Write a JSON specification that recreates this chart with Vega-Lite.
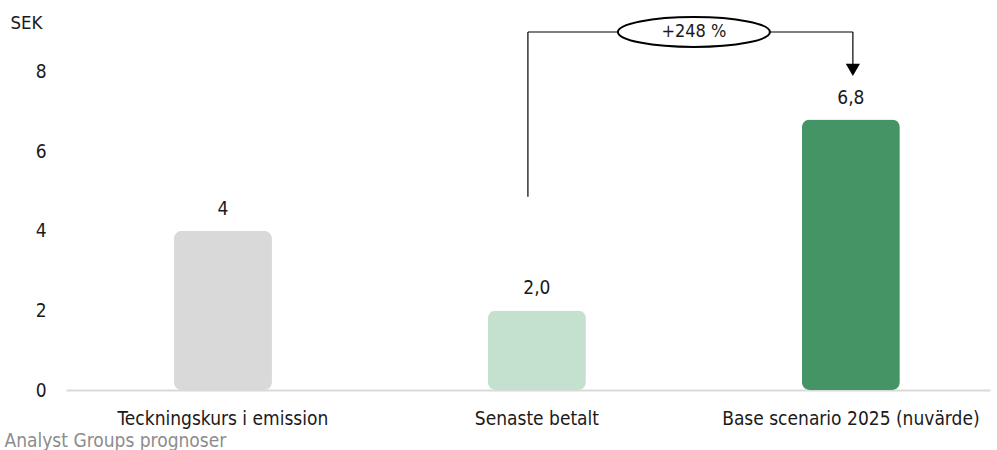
{
  "$schema": "https://vega.github.io/schema/vega-lite/v6.json",
  "autosize": "none",
  "width": 924,
  "height": 358,
  "padding": {"left": 66, "top": 32, "right": 7, "bottom": 60},
  "background": "white",
  "config": {
    "view": {"stroke": null},
    "font": "DejaVu Sans Condensed",
    "text": {"font": "DejaVu Sans Condensed"},
    "axisY": {"titleFontSize": 18.5, "titleFontWeight": "normal", "titleColor": "#1a1a1a"}
  },
  "datasets": {
    "bars": [
      {"kategori": "Teckningskurs i emission", "varde": 4, "etikett": "4"},
      {"kategori": "Senaste betalt", "varde": 2.0, "etikett": "2,0"},
      {"kategori": "Base scenario 2025 (nuvärde)", "varde": 6.8, "etikett": "6,8"}
    ],
    "vlinje": [
      {"kategori": "Senaste betalt", "y1": 4.86, "y2": 9}
    ],
    "hlinje": [
      {"fran": "Senaste betalt", "till": "Base scenario 2025 (nuvärde)", "y": 9}
    ],
    "pil": [
      {"kategori": "Base scenario 2025 (nuvärde)", "y1": 9, "y2": 8.1, "pil": 8.05}
    ],
    "ellips": [
      {"fran": "Senaste betalt", "till": "Base scenario 2025 (nuvärde)", "y": 9, "text": "+248 %"}
    ]
  },
  "layer": [
    {
      "data": {"name": "bars"},
      "mark": {"type": "bar", "cornerRadius": 8, "width": 98},
      "encoding": {
        "x": {
          "field": "kategori", "type": "nominal", "sort": null,
          "scale": {"paddingInner": 0.688, "paddingOuter": 0.3155, "align": 0.545},
          "axis": {
            "title": "Analyst Groups prognoser",
            "titleAnchor": "start", "titleAlign": "left", "titleX": -62, "titleY": 50,
            "titleFontSize": 19, "titleFontWeight": "normal", "titleColor": "#8c8c8c", "titleBaseline": "middle",
            "labelAngle": 0, "labelFontSize": 19, "labelColor": "#1a1a1a", "labelPadding": 28, "labelLimit": 0, "labelBaseline": "middle",
            "ticks": false, "domainColor": "#d9d9d9", "domainWidth": 2
          }
        },
        "y": {
          "field": "varde", "type": "quantitative",
          "scale": {"domain": [0, 9], "nice": false},
          "axis": {
            "values": [0, 2, 4, 6, 8], "grid": false, "domain": false, "ticks": false,
            "labelFontSize": 19, "labelColor": "#1a1a1a", "labelPadding": 20,
            "title": "SEK", "titleAngle": 0, "titleAlign": "left", "titleBaseline": "middle",
            "titleX": -56, "titleY": -10, "titleFontSize": 18.5
          }
        },
        "color": {
          "field": "kategori", "type": "nominal", "legend": null,
          "scale": {
            "domain": ["Teckningskurs i emission", "Senaste betalt", "Base scenario 2025 (nuvärde)"],
            "range": ["#d9d9d9", "#c4e1d0", "#459466"]
          }
        }
      }
    },
    {
      "data": {"name": "bars"},
      "mark": {"type": "text", "baseline": "bottom", "dy": -12, "fontSize": 19, "color": "#1a1a1a"},
      "encoding": {
        "x": {"field": "kategori", "type": "nominal", "sort": null},
        "y": {"field": "varde", "type": "quantitative"},
        "text": {"field": "etikett"}
      }
    },
    {
      "data": {"name": "vlinje"},
      "mark": {"type": "rule", "color": "black", "strokeWidth": 1.2, "xOffset": -9},
      "encoding": {
        "x": {"field": "kategori", "type": "nominal", "sort": null},
        "y": {"field": "y1", "type": "quantitative"},
        "y2": {"field": "y2"}
      }
    },
    {
      "data": {"name": "hlinje"},
      "mark": {"type": "rule", "color": "black", "strokeWidth": 1.2, "xOffset": -9, "x2Offset": 2},
      "encoding": {
        "x": {"field": "fran", "type": "nominal", "sort": null},
        "x2": {"field": "till"},
        "y": {"field": "y", "type": "quantitative"}
      }
    },
    {
      "data": {"name": "pil"},
      "mark": {"type": "rule", "color": "black", "strokeWidth": 1.2, "xOffset": 2},
      "encoding": {
        "x": {"field": "kategori", "type": "nominal", "sort": null},
        "y": {"field": "y1", "type": "quantitative"},
        "y2": {"field": "y2"}
      }
    },
    {
      "data": {"name": "pil"},
      "mark": {"type": "point", "shape": "triangle-down", "filled": true, "color": "black", "size": 200, "opacity": 1, "xOffset": 2},
      "encoding": {
        "x": {"field": "kategori", "type": "nominal", "sort": null},
        "y": {"field": "pil", "type": "quantitative"}
      }
    },
    {
      "data": {"name": "ellips"},
      "transform": [{"calculate": "datum.fran", "as": "mitt"}],
      "mark": {"type": "point", "shape": "M-1,0 A1,0.197 0 1,0 1,0 A1,0.197 0 1,0 -1,0 Z", "filled": false, "fill": "white", "fillOpacity": 1, "stroke": "black", "strokeWidth": 2, "size": 23104, "opacity": 1, "xOffset": 157},
      "encoding": {
        "x": {"field": "mitt", "type": "nominal", "sort": null},
        "y": {"field": "y", "type": "quantitative"}
      }
    },
    {
      "data": {"name": "ellips"},
      "mark": {"type": "text", "fontSize": 18, "color": "#1a1a1a", "xOffset": 157, "baseline": "middle"},
      "encoding": {
        "x": {"field": "fran", "type": "nominal", "sort": null},
        "y": {"field": "y", "type": "quantitative"},
        "text": {"field": "text"}
      }
    }
  ]
}
